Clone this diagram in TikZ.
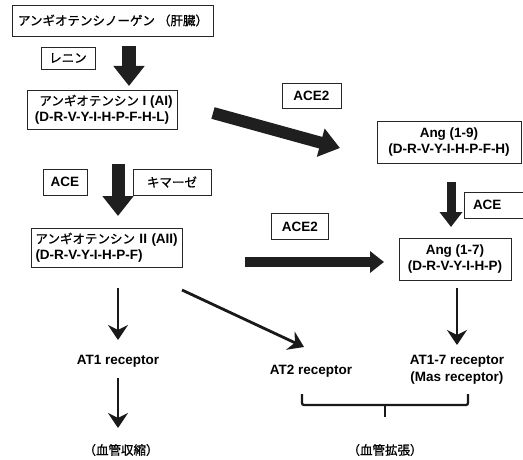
\documentclass[tikz,border=0pt]{standalone}
\usepackage{fontspec}
\setmainfont{Liberation Sans}
\newfontfamily\jpfam{Noto Sans CJK JP}[FakeBold=0.8]
\newcommand{\JP}{\fontsize{12.5}{16}\selectfont\jpfam\mdseries}
\usetikzlibrary{arrows.meta}
\begin{document}
\begin{tikzpicture}[x=1pt,y=-1pt,
  box/.style={draw=black!85, line width=0.9pt, inner sep=0pt, align=center,
    font=\fontsize{13.5}{16}\selectfont\bfseries},
  lbl/.style={inner sep=0pt, align=center, font=\fontsize{13.5}{17}\selectfont\bfseries},
  fatarrow/.style={draw=black!88, line width=#1},
  fat/.style={-{Triangle[width=30pt,length=20pt]}},
  thinarrow/.style={draw=black!90, line width=2.8pt, -{Stealth[length=15pt,width=20pt,inset=5pt]}}
]
\useasboundingbox (0,0) rectangle (523,460);
\clip (0,0) rectangle (523,460);

% boxes
\node[box, minimum width=201pt, minimum height=31pt] (ago) at (113,20.5) {\JP アンギオテンシノーゲン\hspace{3pt}（肝臓）};
\node[box, minimum width=54pt, minimum height=22pt] (renin) at (68,58) {\JP レニン};
\node[box, minimum width=150pt, minimum height=39pt] (a1) at (102,109.5) {\hspace*{8pt}{\JP アンギオテンシン} I (AI)\\(D-R-V-Y-I-H-P-F-H-L)};
\node[box, minimum width=59pt, minimum height=25pt] (ace2a) at (311.5,95.5) {ACE2};
\node[box, minimum width=144pt, minimum height=42pt] (ang19) at (449,142) {Ang (1-9)\\(D-R-V-Y-I-H-P-F-H)};
\node[box, minimum width=44pt, minimum height=26pt] (acel) at (65,182) {ACE};
\node[box, minimum width=78pt, minimum height=26pt] (chym) at (172,182) {\JP キマーゼ};
\node[box, minimum height=26pt, text width=48pt, inner xsep=9pt, align=left] (acer) at (497,205) {ACE};
\node[box, minimum width=151pt, minimum height=39pt, text width=143pt, inner xsep=4pt, align=left] (a2) at (107,247.5) {{\JP アンギオテンシン} II (AII)\\(D-R-V-Y-I-H-P-F)};
\node[box, minimum width=57pt, minimum height=26pt] (ace2b) at (300,226.5) {ACE2};
\node[box, minimum width=112pt, minimum height=42pt] (ang17) at (455,259.5) {Ang (1-7)\\(D-R-V-Y-I-H-P)};

% labels
\node[lbl] (at1) at (118,361) {AT1 receptor};
\node[lbl] (at2) at (311,371) {AT2 receptor};
\node[lbl] (at17) at (457,369.5) {AT1-7 receptor\\(Mas receptor)};
\node[lbl] (vc) at (121,450) {\JP（血管収縮）};
\node[lbl] (vd) at (385,450) {\JP（血管拡張）};

% fat arrows
\coordinate (f1s) at (129,46);   \coordinate (f1e) at (129,86);
\coordinate (f2s) at (118,164);  \coordinate (f2e) at (118,216);
\coordinate (f3s) at (213,113);  \coordinate (f3e) at (340,148);
\coordinate (f4s) at (451,182);  \coordinate (f4e) at (451,227);
\coordinate (f5s) at (245,262);  \coordinate (f5e) at (384,262);
\draw[fatarrow=14pt, fat] (f1s) -- (f1e);
\draw[fatarrow=13pt, fat] (f2s) -- (f2e);
\draw[fatarrow=12pt, -{Triangle[width=28pt,length=20pt]}] (f3s) -- (f3e);
\draw[fatarrow=9pt, -{Triangle[width=22pt,length=15pt]}] (f4s) -- (f4e);
\draw[fatarrow=10pt, -{Triangle[width=21pt,length=14pt]}] (f5s) -- (f5e);

% thin arrows
\coordinate (t1s) at (118,288);  \coordinate (t1e) at (118,340);
\coordinate (t2s) at (118,378);  \coordinate (t2e) at (118,428);
\coordinate (t3s) at (182,290);  \coordinate (t3e) at (304,347);
\coordinate (t4s) at (457,288);  \coordinate (t4e) at (457,345);
\draw[thinarrow] (t1s) -- (t1e);
\draw[thinarrow] (t2s) -- (t2e);
\draw[thinarrow] (t3s) -- (t3e);
\draw[thinarrow] (t4s) -- (t4e);

% brace
\coordinate (bl) at (302,394); \coordinate (br) at (468,394);
\coordinate (bm) at (385,405); \coordinate (bt) at (385,417);
\draw[black!90, line width=2.3pt, rounded corners=2pt] (bl) -- (302,405) -- (468,405) -- (br);
\draw[black!90, line width=2.3pt] (bm) -- (bt);
\end{tikzpicture}
\end{document}
